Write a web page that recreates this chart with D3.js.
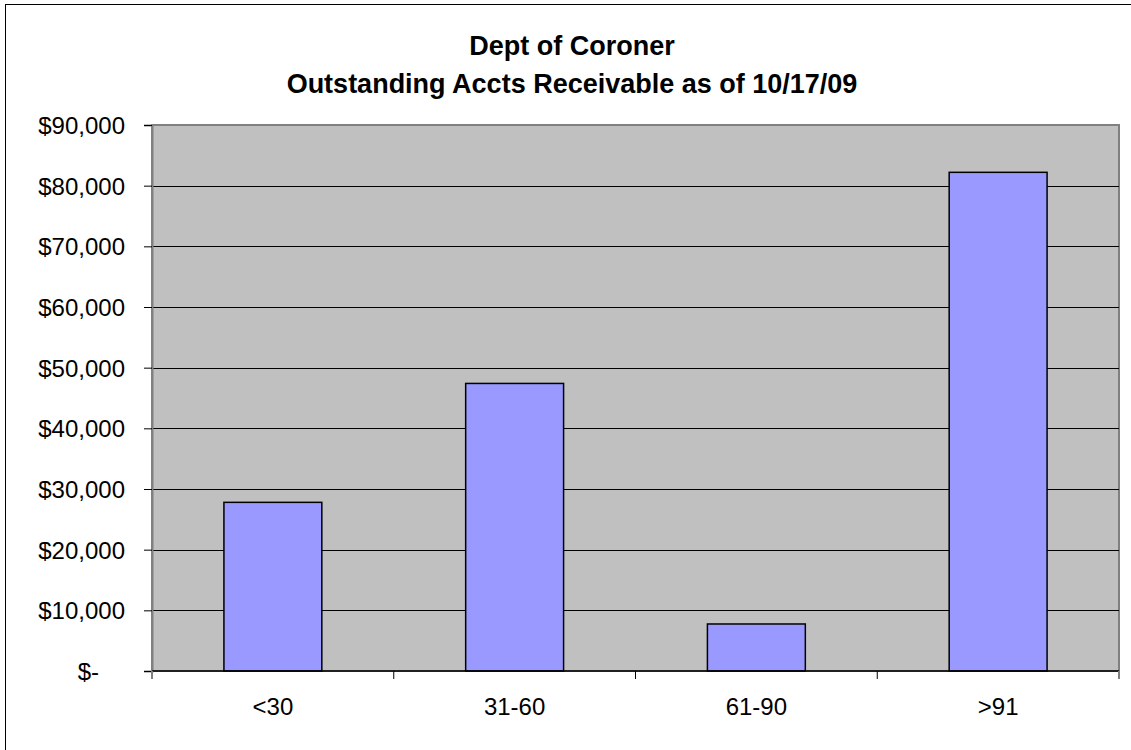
<!DOCTYPE html>
<meta charset="utf-8"/>
<title>Dept of Coroner - Outstanding Accts Receivable</title>
<style>
    body {
        margin: 0;
        background: #fff;
    }

    text {
        font-family: "Liberation Sans", Arial, sans-serif;
        fill: #000;
    }

    .title {
        font-size: 27px;
        font-weight: bold;
    }

    .tick text,
    .xlabel {
        font-size: 24px;
    }

    .grid line {
        stroke: #000;
        stroke-width: 1px;
    }

    .bar {
        fill: #9999ff;
        stroke: #000;
        stroke-width: 1.5px;
    }
</style>
<script src="https://cdn.jsdelivr.net/npm/d3@7"></script>
<svg id="chart" width="1131" height="750"></svg>
<script>
    "use strict";

    // data
    const categories = ["<30", "31-60", "61-90", ">91"];
    const amounts = [27800, 47400, 7750, 82200];
    const yTicks = [0, 10000, 20000, 30000, 40000, 50000, 60000, 70000, 80000, 90000];
    const titleLines = ["Dept of Coroner", "Outstanding Accts Receivable as of 10/17/09"];

    const width = 1131;
    const height = 750;
    const plot = {left: 152, top: 125, right: 1119, bottom: 671};

    const svg = d3.select("#chart");

    // outer frame (right/bottom edges fall outside the window)
    svg.append("rect")
        .attr("x", 5.5)
        .attr("y", 4.5)
        .attr("width", width)
        .attr("height", height)
        .attr("fill", "#fff")
        .attr("stroke", "#000")
        .attr("stroke-width", 1);

    const x = d3.scaleBand()
        .domain(categories)
        .range([plot.left, plot.right])
        .paddingInner(0.595)
        .paddingOuter(0.2975);

    const xTicks = d3.scaleBand()
        .domain(categories)
        .range([plot.left, plot.right]);

    const y = d3.scaleLinear()
        .domain([0, 90000])
        .range([plot.bottom, plot.top]);

    const fmt = d3.format(",");

    // plot background
    svg.append("rect")
        .attr("x", plot.left)
        .attr("y", plot.top)
        .attr("width", plot.right - plot.left)
        .attr("height", plot.bottom - plot.top)
        .attr("fill", "#c0c0c0")
        .attr("stroke", "#808080")
        .attr("stroke-width", 2);

    // gridlines
    svg.append("g")
        .attr("class", "grid")
        .selectAll("line")
        .data(yTicks.filter(function (d) { return d > 0 && d < 90000; }))
        .enter()
        .append("line")
        .attr("x1", plot.left)
        .attr("x2", plot.right)
        .attr("y1", function (d) { return Math.round(y(d)) + 0.5; })
        .attr("y2", function (d) { return Math.round(y(d)) + 0.5; });

    // bars
    svg.append("g")
        .selectAll("rect")
        .data(amounts)
        .enter()
        .append("rect")
        .attr("class", "bar")
        .attr("x", function (d, i) { return x(categories[i]); })
        .attr("y", function (d) { return y(d); })
        .attr("width", x.bandwidth())
        .attr("height", function (d) { return y(0) - y(d); });

    // y axis
    const yAxis = svg.append("g")
        .attr("transform", "translate(" + plot.left + ",0)")
        .call(d3.axisLeft(y)
            .tickValues(yTicks)
            .tickSize(8)
            .tickPadding(19)
            .tickFormat(function (d) { return d === 0 ? "$-" : "$" + fmt(d); }));
    yAxis.select(".domain").attr("stroke", "#808080").attr("stroke-width", 2);
    yAxis.selectAll(".tick line").attr("stroke", "#000");
    yAxis.selectAll(".tick text").attr("dy", "0.35em");
    // accounting format pads the zero dash
    yAxis.select(".tick text").attr("dx", "-26px");

    // x axis: ticks sit between categories, labels centred in bands
    const xAxis = svg.append("g")
        .attr("transform", "translate(0," + plot.bottom + ")");
    xAxis.append("line")
        .attr("x1", plot.left)
        .attr("x2", plot.right)
        .attr("stroke", "#000")
        .attr("stroke-width", 1.5);
    xAxis.selectAll("line.sep")
        .data(categories.concat(["end"]))
        .enter()
        .append("line")
        .attr("class", "sep")
        .attr("x1", function (d, i) { return i < categories.length ? xTicks(d) : plot.right; })
        .attr("x2", function (d, i) { return i < categories.length ? xTicks(d) : plot.right; })
        .attr("y1", 0)
        .attr("y2", 8)
        .attr("stroke", function (d, i) { return (i === 0 || i === categories.length) ? "#808080" : "#000"; })
        .attr("stroke-width", function (d, i) { return (i === 0 || i === categories.length) ? 2 : 1; });
    xAxis.selectAll("text")
        .data(categories)
        .enter()
        .append("text")
        .attr("class", "xlabel")
        .attr("x", function (d) { return xTicks(d) + xTicks.bandwidth() / 2; })
        .attr("y", 44)
        .attr("text-anchor", "middle")
        .text(function (d) { return d; });

    // title
    svg.append("g")
        .selectAll("text")
        .data(titleLines)
        .enter()
        .append("text")
        .attr("class", "title")
        .attr("x", 572)
        .attr("y", function (d, i) { return 55 + i * 38; })
        .attr("text-anchor", "middle")
        .text(function (d) { return d; });
</script>
